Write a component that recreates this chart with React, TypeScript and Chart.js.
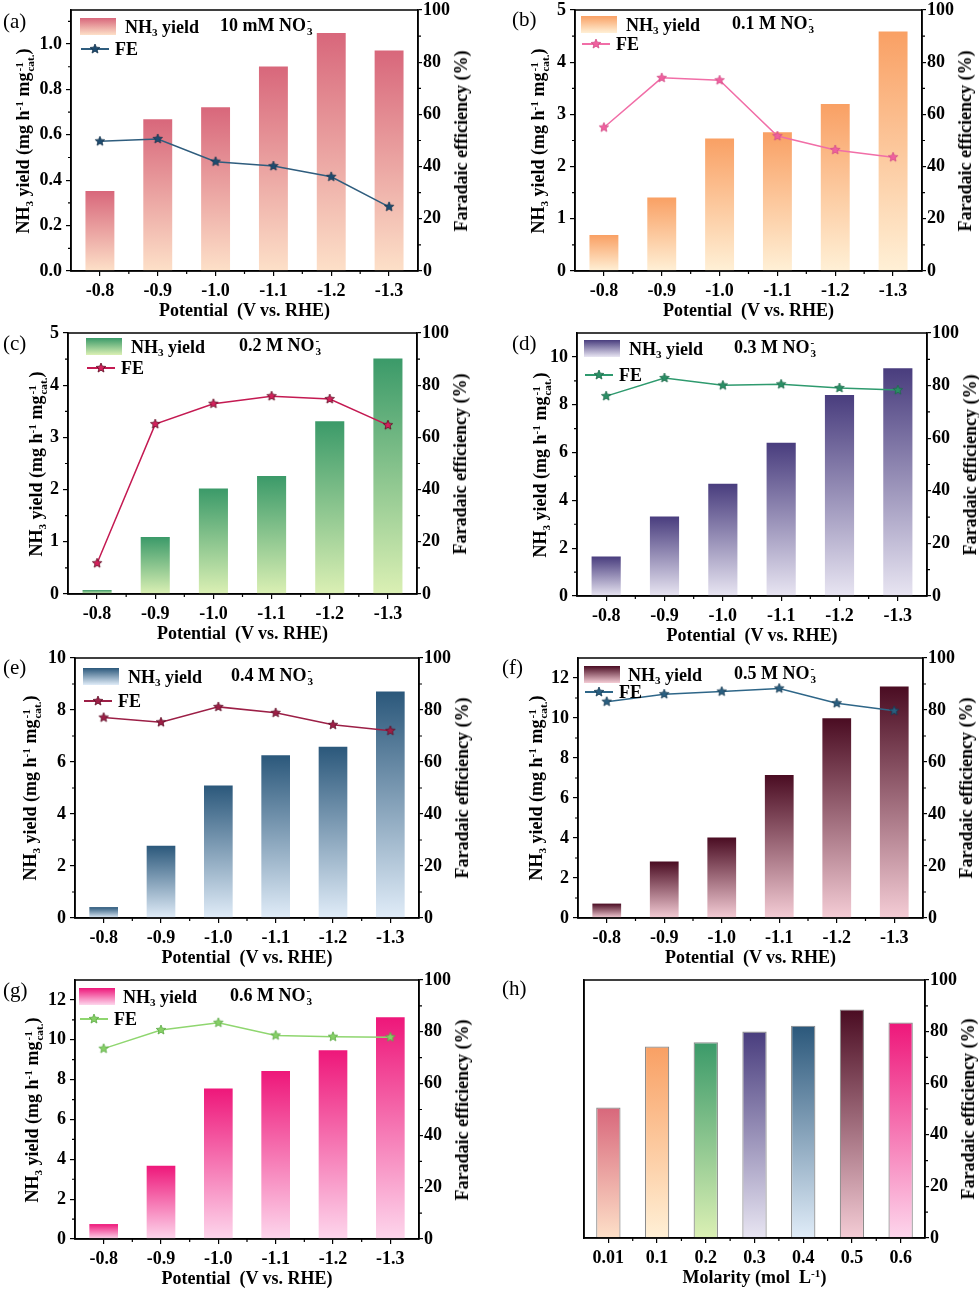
import { useEffect, useRef } from 'react';
import type { CSSProperties, ReactNode } from 'react';
import { Chart, registerables } from 'chart.js';

Chart.register(...registerables);

const FONT = '"Liberation Serif", "Times New Roman", serif';

// categories
const potentials = ['-0.8', '-0.9', '-1.0', '-1.1', '-1.2', '-1.3'];
const molarities = ['0.01', '0.1', '0.2', '0.3', '0.4', '0.5', '0.6'];

// NH3 yield (mg h-1 mg-1 cat.) and FE (%) per panel
const yieldA = [0.352, 0.669, 0.722, 0.901, 1.049, 0.972];
const feA = [49.7, 50.6, 41.9, 40.2, 36.1, 24.6];
const yieldB = [0.69, 1.41, 2.54, 2.66, 3.2, 4.59];
const feB = [55.0, 74.0, 73.1, 51.7, 46.4, 43.6];
const yieldC = [0.077, 1.09, 2.02, 2.26, 3.31, 4.51];
const feC = [11.8, 65.1, 72.9, 75.8, 74.7, 64.7];
const yieldD = [1.65, 3.32, 4.69, 6.41, 8.41, 9.53];
const feD = [76.0, 82.9, 80.1, 80.5, 79.1, 78.3];
const yieldE = [0.42, 2.78, 5.1, 6.26, 6.59, 8.71];
const feE = [77.1, 75.3, 81.2, 78.9, 74.3, 72.0];
const yieldF = [0.72, 2.83, 4.03, 7.15, 9.99, 11.58];
const feF = [83.2, 86.1, 87.1, 88.3, 82.6, 79.7];
const yieldG = [0.75, 3.68, 7.56, 8.43, 9.47, 11.13];
const feG = [73.5, 80.7, 83.5, 78.6, 78.1, 77.9];
const feByMolarity = [50.6, 74.2, 75.9, 80.0, 82.3, 88.6, 83.5];

// bar gradients (top, bottom) for each concentration
const barColors = [
  ['#d8677b', '#fde0c8'],
  ['#f9a064', '#fff0d6'],
  ['#3b9a69', '#dbf0b4'],
  ['#493d7e', '#e8e5f2'],
  ['#2b587b', '#e0ecf8'],
  ['#4a0c22', '#f4ccd5'],
  ['#ee177a', '#fdd6ec'],
];

type Panel = {
  key: string;
  values: number[];
  fe: number[];
  yMax: number;
  yStep: number;
  dec: number;
  conc: string;
  colors: string[][];
  line: string;
  star: string;
  starEdge: string;
  area: number[]; // chart area L, T, R, B in page px
  titleX: number;
  tag: number[]; // panel letter x, center y
  lg: number[]; // swatch x, row1 y, text x, conc x, row2 y (offsets from area)
};

const panels: Panel[] = [
  { key: 'a', values: yieldA, fe: feA, yMax: 1.15, yStep: 0.2, dec: 1, conc: '10 mM', colors: [barColors[0]], line: '#2f5d7e', star: '#1e4c70', starEdge: '#16344d', area: [71, 10, 418, 271], titleX: 25, tag: [3, 21], lg: [9, 16.5, 54, 149, 39] },
  { key: 'b', values: yieldB, fe: feB, yMax: 5, yStep: 1, dec: 0, conc: '0.1 M', colors: [barColors[1]], line: '#f16ea7', star: '#f0609f', starEdge: '#d24c86', area: [575, 10, 922, 271], titleX: 540, tag: [512, 19], lg: [6, 14.5, 51, 157, 34] },
  { key: 'c', values: yieldC, fe: feC, yMax: 5, yStep: 1, dec: 0, conc: '0.2 M', colors: [barColors[2]], line: '#c41a52', star: '#d4215c', starEdge: '#5a0a20', area: [68, 333, 417, 594], titleX: 38, tag: [3, 343], lg: [18, 13.5, 63, 171, 35] },
  { key: 'd', values: yieldD, fe: feD, yMax: 11, yStep: 2, dec: 0, conc: '0.3 M', colors: [barColors[3]], line: '#2e9a6e', star: '#2a8f65', starEdge: '#1d6a4a', area: [577, 333, 927, 596], titleX: 542, tag: [512, 343], lg: [7, 15.5, 52, 157, 42] },
  { key: 'e', values: yieldE, fe: feE, yMax: 10, yStep: 2, dec: 0, conc: '0.4 M', colors: [barColors[4]], line: '#9c1f46', star: '#9c1f46', starEdge: '#5e0f28', area: [75, 658, 419, 918], titleX: 32, tag: [3, 667], lg: [8, 18.5, 53, 156, 43] },
  { key: 'f', values: yieldF, fe: feF, yMax: 13, yStep: 2, dec: 0, conc: '0.5 M', colors: [barColors[5]], line: '#2e6688', star: '#2a5f80', starEdge: '#173a52', area: [578, 658, 923, 918], titleX: 538, tag: [502, 667], lg: [6, 16.5, 50, 156, 34] },
  { key: 'g', values: yieldG, fe: feG, yMax: 13, yStep: 2, dec: 0, conc: '0.6 M', colors: [barColors[6]], line: '#8fd66f', star: '#86d066', starEdge: '#5aa844', area: [75, 980, 419, 1239], titleX: 34, tag: [3, 990], lg: [4, 16.5, 48, 155, 39] },
  { key: 'h', values: feByMolarity, fe: [], yMax: 100, yStep: 20, dec: 0, conc: '', colors: barColors, line: '#000', star: '#000', starEdge: '#000', area: [584, 980, 925, 1238], titleX: 0, tag: [502, 988], lg: [] },
];

const AX_L = 60;
const AX_R = 50;
const AX_B = 40;
const PAD_T = 12;

function makeStar(fill: string, edge: string, r = 5) {
  const size = Math.ceil(r * 2 + 2);
  const c = document.createElement('canvas');
  c.width = size;
  c.height = size;
  const g = c.getContext('2d')!;
  g.beginPath();
  for (let i = 0; i < 10; i++) {
    const a = -Math.PI / 2 + (i * Math.PI) / 5;
    const rr = i % 2 === 0 ? r : r * 0.45;
    g.lineTo(size / 2 + rr * Math.cos(a), size / 2 + rr * Math.sin(a));
  }
  g.closePath();
  g.fillStyle = fill;
  g.fill();
  g.strokeStyle = edge;
  g.lineWidth = 0.8;
  g.stroke();
  return c;
}

function barFill(c: any, colors: string[][], axisId: string) {
  const chart = c.chart;
  const [top, bottom] = colors[(c.dataIndex ?? 0) % colors.length];
  if (c.type !== 'data' || !chart.chartArea) return top;
  const s = chart.scales[axisId];
  const y0 = s.getPixelForValue(c.raw);
  const y1 = s.getPixelForValue(0);
  if (!isFinite(y0) || y1 - y0 < 1) return top;
  const g = chart.ctx.createLinearGradient(0, y0, 0, y1);
  g.addColorStop(0, top);
  g.addColorStop(1, bottom);
  return g;
}

// outer box plus minor ticks
const framePlugin = {
  id: 'frame',
  afterDraw(chart: any) {
    const { ctx, chartArea: a, scales } = chart;
    ctx.save();
    ctx.strokeStyle = '#000';
    ctx.lineWidth = 1.5;
    ctx.strokeRect(a.left, a.top, a.right - a.left, a.bottom - a.top);
    ctx.lineWidth = 1.2;
    ctx.beginPath();
    const x = scales.x;
    const n = chart.data.labels.length;
    for (let i = 0; i < n - 1; i++) {
      const px = (x.getPixelForValue(i) + x.getPixelForValue(i + 1)) / 2;
      ctx.moveTo(px, a.bottom);
      ctx.lineTo(px, a.bottom + 3);
    }
    for (const id of ['y', 'y1']) {
      const s = scales[id];
      if (!s || s.options.ticks.display === false) continue;
      const step = s.options.ticks.stepSize;
      for (let v = step / 2; v < s.max - 1e-9; v += step) {
        const py = s.getPixelForValue(v);
        if (id === 'y') {
          ctx.moveTo(a.left, py);
          ctx.lineTo(a.left - 3, py);
        } else {
          ctx.moveTo(a.right, py);
          ctx.lineTo(a.right + 3, py);
        }
      }
    }
    ctx.stroke();
    ctx.restore();
  },
};

function buildConfig(p: Panel): any {
  const isH = p.key === 'h';
  const tickFont = { family: FONT, size: 18, weight: 'bold' as const };
  const grid = { drawOnChartArea: false, drawTicks: true, tickLength: 5, color: '#000', lineWidth: 1.2 };
  const border = { display: true, color: '#000', width: 1.5 };
  const datasets: any[] = [];
  if (!isH) {
    datasets.push({
      type: 'line',
      label: 'FE',
      data: p.fe,
      yAxisID: 'y1',
      borderColor: p.line,
      backgroundColor: p.line,
      borderWidth: 1.5,
      pointStyle: makeStar(p.star, p.starEdge),
      pointRadius: 5,
      pointHoverRadius: 5,
      tension: 0,
      order: 0,
    });
  }
  const barAxis = isH ? 'y1' : 'y';
  datasets.push({
    type: 'bar',
    label: isH ? 'FE' : 'NH3 yield',
    data: p.values,
    yAxisID: barAxis,
    backgroundColor: (c: any) => barFill(c, p.colors, barAxis),
    borderColor: isH ? '#8c8c8c' : 'rgba(0,0,0,0)',
    borderWidth: isH ? 1.2 : 0,
    barPercentage: 0.5,
    categoryPercentage: 1,
    order: 1,
  });

  return {
    type: 'bar',
    data: { labels: isH ? molarities : potentials, datasets },
    plugins: [framePlugin],
    options: {
      animation: false,
      responsive: false,
      events: [],
      layout: { padding: { top: PAD_T, left: 0, right: 0, bottom: 0 } },
      plugins: { legend: { display: false }, tooltip: { enabled: false } },
      scales: {
        x: {
          type: 'category',
          offset: true,
          grid: { ...grid, offset: false },
          border,
          ticks: { font: tickFont, color: '#000', padding: 5, maxRotation: 0, autoSkip: false },
          afterFit(s: any) {
            s.height = AX_B;
            s.paddingLeft = 0;
            s.paddingRight = 0;
          },
        },
        y: {
          position: 'left',
          min: 0,
          max: p.yMax,
          grid: isH ? { display: false } : grid,
          border,
          ticks: {
            display: !isH,
            stepSize: p.yStep,
            includeBounds: false,
            font: tickFont,
            color: '#000',
            padding: 4,
            callback: (v: any) => Number(v).toFixed(p.dec),
          },
          afterFit(s: any) {
            s.width = AX_L;
            s.paddingTop = 0;
            s.paddingBottom = 0;
          },
        },
        y1: {
          position: 'right',
          min: 0,
          max: 100,
          grid: { ...grid, tickLength: 4 },
          border,
          ticks: { stepSize: 20, font: tickFont, color: '#000', padding: 1, callback: (v: any) => String(v) },
          afterFit(s: any) {
            s.width = AX_R;
            s.paddingTop = 0;
            s.paddingBottom = 0;
          },
        },
      },
    },
  };
}

const textBase: CSSProperties = {
  position: 'absolute',
  fontFamily: FONT,
  fontWeight: 'bold',
  fontSize: 18,
  lineHeight: '20px',
  color: '#000',
  whiteSpace: 'pre',
};

const subStyle: CSSProperties = { fontSize: '0.62em', verticalAlign: '-0.3em', lineHeight: 0 };
const supStyle: CSSProperties = { fontSize: '0.62em', verticalAlign: '0.55em', lineHeight: 0 };

function Stack({ sup, sub }: { sup: string; sub: string }) {
  return (
    <span
      style={{
        display: 'inline-flex',
        flexDirection: 'column',
        fontSize: '0.62em',
        lineHeight: 1,
        verticalAlign: 'middle',
        marginLeft: 1,
      }}
    >
      <span>{sup}</span>
      <span>{sub}</span>
    </span>
  );
}

function PanelChart({ p }: { p: Panel }) {
  const ref = useRef<HTMLCanvasElement>(null);
  const [L, T, R, B] = p.area;
  const w = R - L + AX_L + AX_R;
  const h = B - T + PAD_T + AX_B;

  useEffect(() => {
    if (!ref.current) return;
    const chart = new Chart(ref.current, buildConfig(p));
    return () => chart.destroy();
  }, []);

  const midY = (T + B) / 2;
  const rot: CSSProperties = { transform: 'translate(-50%, -50%) rotate(-90deg)' };
  const isH = p.key === 'h';
  const [sx, sy, tx, cx, fy] = p.lg;

  let legend: ReactNode = null;
  if (!isH) {
    const [top, bottom] = p.colors[0];
    legend = (
      <>
        <div
          style={{
            position: 'absolute',
            left: L + sx,
            top: T + sy - 8.5,
            width: 36,
            height: 17,
            background: `linear-gradient(${top}, ${bottom})`,
          }}
        />
        <div style={{ ...textBase, left: L + tx, top: T + sy, transform: 'translateY(-50%)' }}>
          NH<span style={subStyle}>3</span> yield
        </div>
        <div style={{ ...textBase, left: L + cx, top: T + sy, transform: 'translateY(-50%)' }}>
          {p.conc} NO<Stack sup="-" sub="3" />
        </div>
        <div style={{ position: 'absolute', left: L + sx + 1, top: T + fy - 0.75, width: 28, height: 1.5, background: p.line }} />
        <svg
          width={12}
          height={12}
          viewBox="-6 -6 12 12"
          style={{ position: 'absolute', left: L + sx + 9, top: T + fy - 6 }}
        >
          <polygon
            points="0,-5 1.32,-1.82 4.76,-1.55 2.14,0.7 2.94,4.05 0,2.25 -2.94,4.05 -2.14,0.7 -4.76,-1.55 -1.32,-1.82"
            fill={p.star}
            stroke={p.starEdge}
            strokeWidth={0.8}
          />
        </svg>
        <div style={{ ...textBase, left: L + sx + 35, top: T + fy, transform: 'translateY(-50%)' }}>FE</div>
      </>
    );
  }

  return (
    <>
      <canvas
        ref={ref}
        width={w}
        height={h}
        style={{ position: 'absolute', left: L - AX_L, top: T - PAD_T, width: w, height: h }}
      />
      <div
        style={{
          ...textBase,
          fontWeight: 'normal',
          fontSize: 21,
          left: p.tag[0],
          top: p.tag[1],
          transform: 'translateY(-50%)',
        }}
      >
        ({p.key})
      </div>
      {!isH && (
        <div style={{ ...textBase, left: p.titleX, top: midY, ...rot }}>
          NH<span style={subStyle}>3</span> yield (mg h<span style={supStyle}>-1</span> mg<Stack sup="-1" sub="cat." />)
        </div>
      )}
      <div style={{ ...textBase, left: R + 43, top: midY, ...rot }}>Faradaic efficiency (%)</div>
      <div style={{ ...textBase, left: (L + R) / 2, top: B + 39, transform: 'translate(-50%, -50%)' }}>
        {isH ? (
          <>
            Molarity (mol  L<span style={supStyle}>-1</span>)
          </>
        ) : (
          'Potential  (V vs. RHE)'
        )}
      </div>
      {legend}
    </>
  );
}

export default function App() {
  return (
    <div
      style={{
        position: 'absolute',
        left: 0,
        top: 0,
        width: 979,
        height: 1291,
        overflow: 'hidden',
        background: '#fff',
      }}
    >
      {panels.map((p) => (
        <PanelChart key={p.key} p={p} />
      ))}
    </div>
  );
}
